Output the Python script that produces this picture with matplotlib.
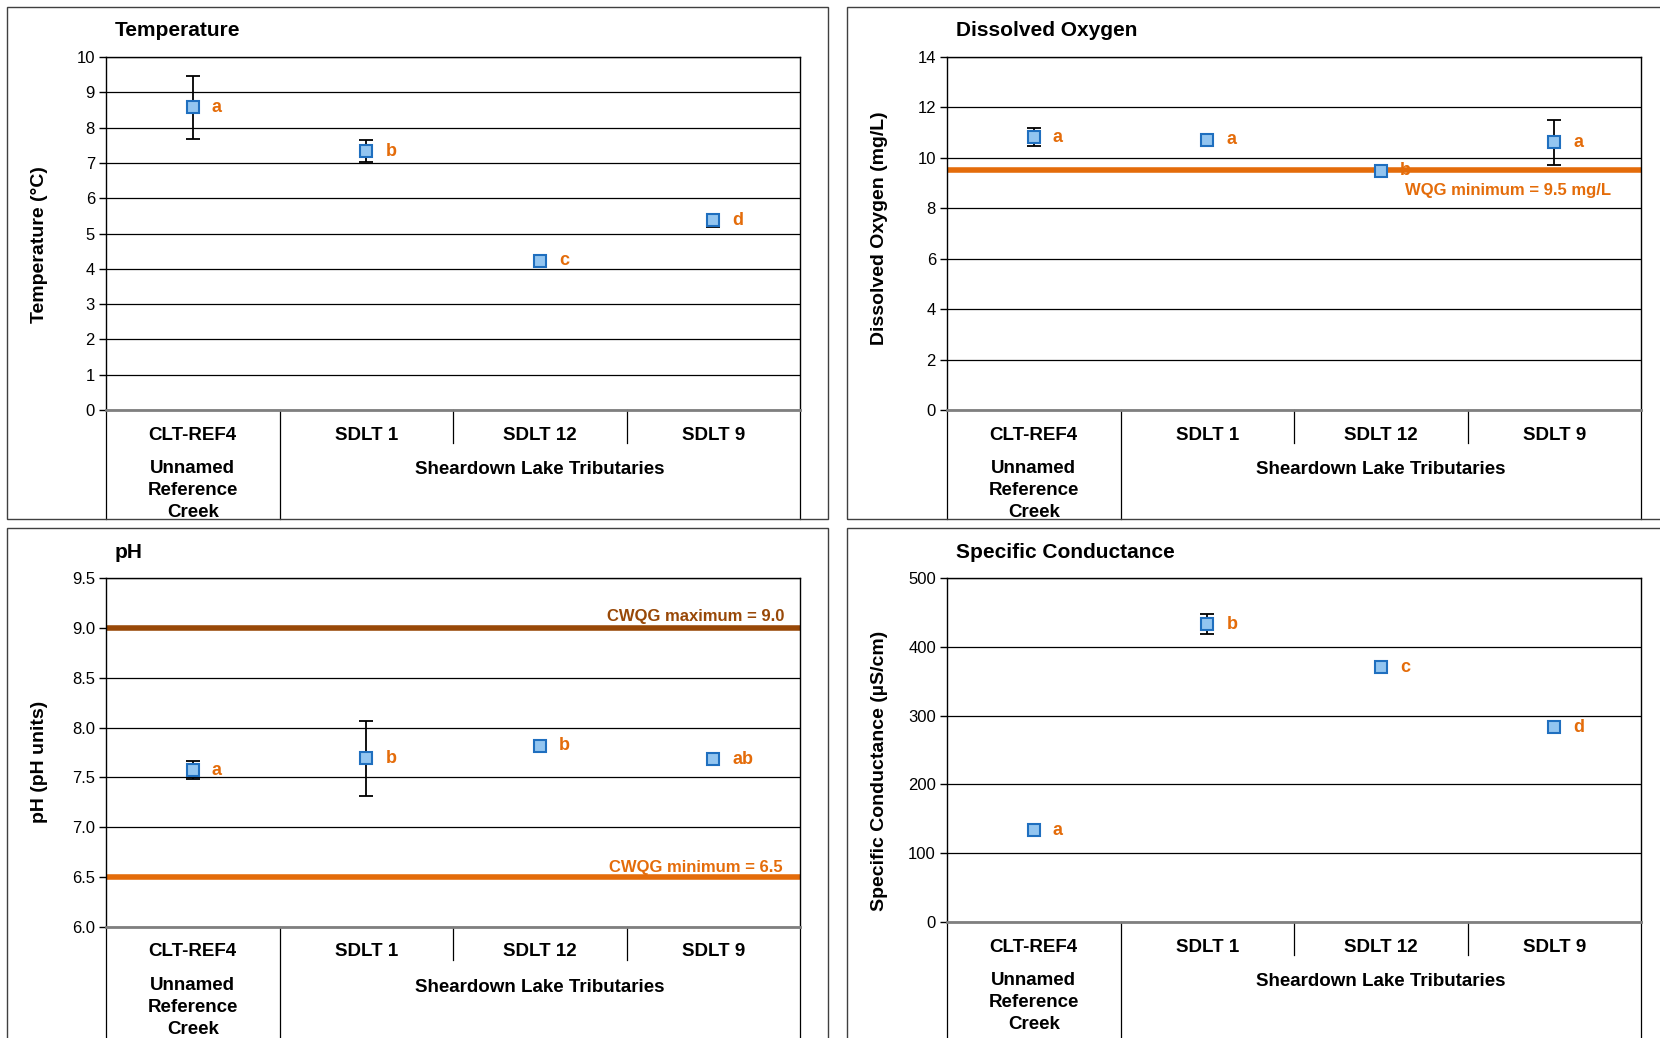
import matplotlib
matplotlib.use("Agg")
import matplotlib.pyplot as plt
from matplotlib.patches import Rectangle
from matplotlib.transforms import offset_copy

plt.rcParams["font.family"] = ["Liberation Sans", "DejaVu Sans"]

W, H = 1660, 1038

sites = ["CLT-REF4", "SDLT 1", "SDLT 12", "SDLT 9"]
ref_group = "Unnamed\nReference\nCreek"
trib_group = "Sheardown Lake Tributaries"

temp_mean = [8.58, 7.33, 4.23, 5.37]
temp_err = [0.89, 0.31, 0.10, 0.18]
temp_letters = ["a", "b", "c", "d"]

do_mean = [10.82, 10.72, 9.48, 10.62]
do_err = [0.36, 0.22, 0.22, 0.89]
do_letters = ["a", "a", "b", "a"]
do_min = 9.5

ph_mean = [7.57, 7.69, 7.82, 7.68]
ph_err = [0.09, 0.38, 0.02, 0.02]
ph_letters = ["a", "b", "b", "ab"]
ph_max = 9.0
ph_min = 6.5

spc_mean = [133, 433, 370, 283]
spc_err = [3, 14, 2, 2]
spc_letters = ["a", "b", "c", "d"]

ORANGE = "#E46C0A"
BROWN = "#984807"
FACE = "#93C5F0"
EDGE = "#1F6FBF"


def px_axes(fig, left, top, right, bottom):
    return fig.add_axes([left / W, 1 - bottom / H, (right - left) / W, (bottom - top) / H])


def draw_panel(fig, ax, mean, err, letters, ylim, yticks, fmt, title, ylabel,
               title_xy, ylabel_xy, panel_bottom):
    x = list(range(len(sites)))
    ax.errorbar(x, mean, yerr=err, fmt="none", ecolor="black", elinewidth=1.3,
                capsize=5, capthick=1.3, zorder=3)
    ax.plot(x, mean, linestyle="none", marker="s", markersize=8.5,
            markerfacecolor=FACE, markeredgecolor=EDGE, markeredgewidth=1.5, zorder=4)
    for xi, yi, lab in zip(x, mean, letters):
        ax.text(xi + 0.11, yi, lab, color=ORANGE, fontsize=13, fontweight="bold",
                ha="left", va="center", zorder=5)

    ax.set_xlim(-0.5, 3.5)
    ax.set_ylim(*ylim)
    ax.set_yticks(yticks)
    ax.set_yticklabels([fmt.format(t) for t in yticks])
    ax.set_xticks([])
    ax.tick_params(axis="y", direction="out", length=5, width=1, labelsize=12, pad=3)
    ax.yaxis.grid(True, color="black", linewidth=0.9)
    ax.set_axisbelow(True)
    for side in ["left", "top", "right"]:
        ax.spines[side].set_color("black")
        ax.spines[side].set_linewidth(1)
    ax.spines["bottom"].set_color("#7f7f7f")
    ax.spines["bottom"].set_linewidth(2)

    # category labels under the axis
    trans = ax.get_xaxis_transform()
    for xi, name in zip(x, sites):
        ax.text(xi, 0, name, transform=offset_copy(trans, fig=fig, y=-25, units="dots"),
                ha="center", va="center", fontsize=13.5, fontweight="bold")
    ax.text(0, 0, ref_group, transform=offset_copy(trans, fig=fig, y=-50, units="dots"),
            ha="center", va="top", fontsize=13.5, fontweight="bold", linespacing=1.4)
    ax.text(2, 0, trib_group, transform=offset_copy(trans, fig=fig, y=-60, units="dots"),
            ha="center", va="center", fontsize=13.5, fontweight="bold")

    # separator lines
    ax_h = ax.get_position().height * H
    ax_bottom_px = (1 - ax.get_position().y0) * H
    long_frac = (panel_bottom - ax_bottom_px) / ax_h
    short_frac = 33 / ax_h
    for xs in [-0.5, 0.5, 3.5]:
        ax.plot([xs, xs], [0, -long_frac], transform=trans, color="black", lw=0.9,
                clip_on=False)
    for xs in [1.5, 2.5]:
        ax.plot([xs, xs], [0, -short_frac], transform=trans, color="black", lw=0.9,
                clip_on=False)

    fig.text(title_xy[0] / W, 1 - title_xy[1] / H, title, fontsize=15,
             fontweight="bold", ha="left", va="center")
    fig.text(ylabel_xy[0] / W, 1 - ylabel_xy[1] / H, ylabel, rotation=90,
             fontsize=14, fontweight="bold", ha="center", va="center")


fig = plt.figure(figsize=(W / 100, H / 100), dpi=100)

# panel frames
for (l, t, r, b) in [(7, 7, 828, 519), (847, 7, 1680, 519),
                     (7, 528, 828, 1060), (847, 528, 1680, 1060)]:
    fig.add_artist(Rectangle((l / W, 1 - b / H), (r - l) / W, (b - t) / H,
                             transform=fig.transFigure, fill=False,
                             edgecolor="#404040", linewidth=1))

ax_t = px_axes(fig, 106, 57, 800, 410)
draw_panel(fig, ax_t, temp_mean, temp_err, temp_letters, (0, 10), list(range(0, 11)),
           "{:.0f}", "Temperature", "Temperature (°C)", (115, 31), (40, 245), 519)

ax_d = px_axes(fig, 947, 57, 1641, 410)
draw_panel(fig, ax_d, do_mean, do_err, do_letters, (0, 14), list(range(0, 15, 2)),
           "{:.0f}", "Dissolved Oxygen", "Dissolved Oxygen (mg/L)", (956, 31), (879, 228), 519)
ax_d.axhline(do_min, color=ORANGE, linewidth=4, zorder=2.5)
ax_d.text(3.33, 8.7, "WQG minimum = 9.5 mg/L", color=ORANGE, fontsize=12,
          fontweight="bold", ha="right", va="center")

ax_p = px_axes(fig, 106, 578, 800, 927)
draw_panel(fig, ax_p, ph_mean, ph_err, ph_letters, (6.0, 9.5),
           [6.0, 6.5, 7.0, 7.5, 8.0, 8.5, 9.0, 9.5], "{:.1f}", "pH", "pH (pH units)",
           (115, 552), (40, 762), 1060)
ax_p.axhline(ph_max, color=BROWN, linewidth=4, zorder=2.5)
ax_p.axhline(ph_min, color=ORANGE, linewidth=4, zorder=2.5)
ax_p.text(3.41, 9.11, "CWQG maximum = 9.0", color=BROWN, fontsize=12,
          fontweight="bold", ha="right", va="center")
ax_p.text(3.40, 6.6, "CWQG minimum = 6.5", color=ORANGE, fontsize=12,
          fontweight="bold", ha="right", va="center")

ax_s = px_axes(fig, 947, 578, 1641, 922)
draw_panel(fig, ax_s, spc_mean, spc_err, spc_letters, (0, 500), list(range(0, 501, 100)),
           "{:.0f}", "Specific Conductance", "Specific Conductance (µS/cm)",
           (956, 552), (879, 771), 1060)

fig.savefig("out.png", dpi=100)
